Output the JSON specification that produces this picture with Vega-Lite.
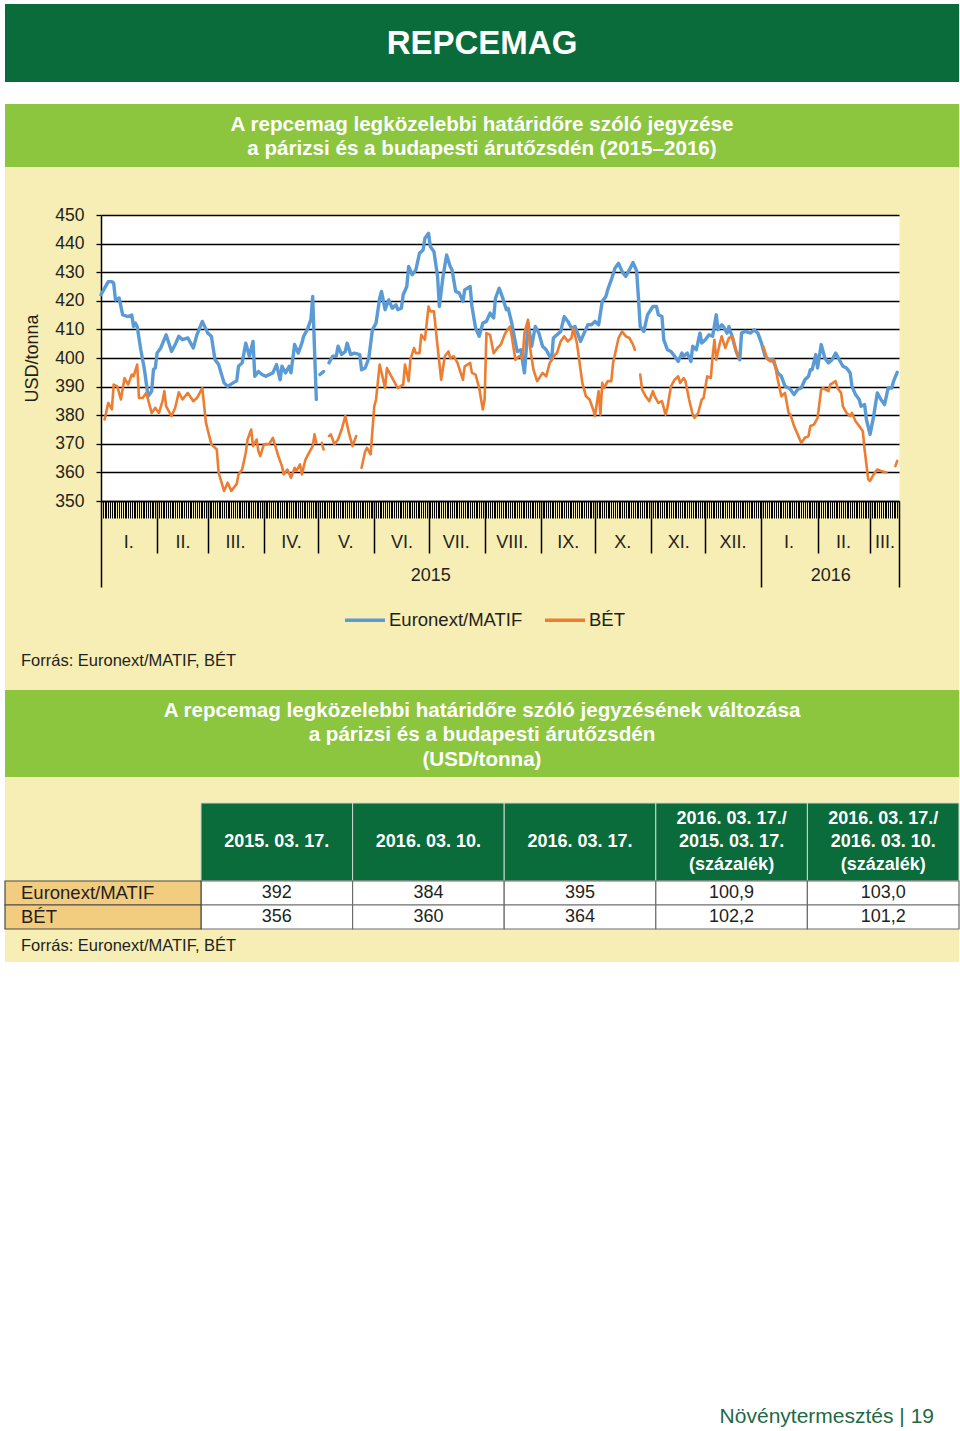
{
  "$schema": "https://vega.github.io/schema/vega-lite/v6.json",
  "background": "white",
  "padding": {"left": 4, "top": 4, "right": 2, "bottom": 0},
  "spacing": 0,
  "bounds": "flush",
  "config": {
    "view": {"stroke": null},
    "font": "Liberation Sans",
    "locale": {"number": {"decimal": ",", "thousands": " ", "grouping": [3], "currency": ["", ""]}}
  },
  "datasets": {
    "euronext": [
      {"date": "2015-01-01", "v": 422.1}, {"date": "2015-01-05", "v": 426.7}, {"date": "2015-01-07", "v": 426.7}, {"date": "2015-01-08", "v": 426.2},
      {"date": "2015-01-09", "v": 420.3}, {"date": "2015-01-11", "v": 421}, {"date": "2015-01-13", "v": 415.1}, {"date": "2015-01-16", "v": 414.5},
      {"date": "2015-01-18", "v": 415}, {"date": "2015-01-19", "v": 411}, {"date": "2015-01-20", "v": 412.2}, {"date": "2015-01-21", "v": 411},
      {"date": "2015-01-23", "v": 402.9}, {"date": "2015-01-25", "v": 396}, {"date": "2015-01-27", "v": 386.6}, {"date": "2015-01-29", "v": 388.4},
      {"date": "2015-01-30", "v": 396}, {"date": "2015-01-31", "v": 396.5}, {"date": "2015-02-01", "v": 401.7}, {"date": "2015-02-03", "v": 403.5},
      {"date": "2015-02-06", "v": 408.1}, {"date": "2015-02-09", "v": 402.3}, {"date": "2015-02-11", "v": 404.7}, {"date": "2015-02-13", "v": 407.6},
      {"date": "2015-02-15", "v": 406.4}, {"date": "2015-02-18", "v": 407}, {"date": "2015-02-21", "v": 403.5}, {"date": "2015-02-23", "v": 408.1},
      {"date": "2015-02-26", "v": 412.8}, {"date": "2015-03-01", "v": 408.7}, {"date": "2015-03-03", "v": 407.6}, {"date": "2015-03-05", "v": 399.4},
      {"date": "2015-03-07", "v": 397.7}, {"date": "2015-03-10", "v": 391.3}, {"date": "2015-03-12", "v": 390.1}, {"date": "2015-03-15", "v": 391.3},
      {"date": "2015-03-17", "v": 392}, {"date": "2015-03-18", "v": 397.1}, {"date": "2015-03-20", "v": 398.3}, {"date": "2015-03-22", "v": 405.2},
      {"date": "2015-03-24", "v": 400.6}, {"date": "2015-03-26", "v": 405.8}, {"date": "2015-03-27", "v": 393.6}, {"date": "2015-03-29", "v": 395.3},
      {"date": "2015-03-31", "v": 394.2}, {"date": "2015-04-02", "v": 393.6}, {"date": "2015-04-06", "v": 394.8}, {"date": "2015-04-08", "v": 397.7},
      {"date": "2015-04-10", "v": 392.4}, {"date": "2015-04-11", "v": 397.1}, {"date": "2015-04-13", "v": 394.8}, {"date": "2015-04-15", "v": 397.1},
      {"date": "2015-04-16", "v": 394.8}, {"date": "2015-04-18", "v": 404.7}, {"date": "2015-04-20", "v": 401.7}, {"date": "2015-04-22", "v": 405.2},
      {"date": "2015-04-23", "v": 407.6}, {"date": "2015-04-25", "v": 409.9}, {"date": "2015-04-27", "v": 413.4}, {"date": "2015-04-28", "v": 421.5},
      {"date": "2015-04-29", "v": 402.9}, {"date": "2015-04-30", "v": 385.5}, {"date": "2015-05-01", "v": null}, {"date": "2015-05-02", "v": 394.2},
      {"date": "2015-05-04", "v": 395.3}, {"date": "2015-05-06", "v": null}, {"date": "2015-05-07", "v": 398.3}, {"date": "2015-05-09", "v": 400.6},
      {"date": "2015-05-11", "v": 400.6}, {"date": "2015-05-12", "v": 404.1}, {"date": "2015-05-14", "v": 401.2}, {"date": "2015-05-16", "v": 402.3},
      {"date": "2015-05-17", "v": 405.2}, {"date": "2015-05-19", "v": 401.2}, {"date": "2015-05-21", "v": 401.7}, {"date": "2015-05-24", "v": 401.2},
      {"date": "2015-05-25", "v": 395.9}, {"date": "2015-05-27", "v": 396.5}, {"date": "2015-05-29", "v": 400}, {"date": "2015-05-31", "v": 409.9},
      {"date": "2015-06-02", "v": 412.2}, {"date": "2015-06-04", "v": 420.9}, {"date": "2015-06-05", "v": 423.3}, {"date": "2015-06-07", "v": 416.9},
      {"date": "2015-06-09", "v": 420.3}, {"date": "2015-06-11", "v": 417.4}, {"date": "2015-06-13", "v": 418.6}, {"date": "2015-06-14", "v": 416.9},
      {"date": "2015-06-16", "v": 417.4}, {"date": "2015-06-17", "v": 422.1}, {"date": "2015-06-19", "v": 425}, {"date": "2015-06-20", "v": 432},
      {"date": "2015-06-22", "v": 429.1}, {"date": "2015-06-24", "v": 430.8}, {"date": "2015-06-26", "v": 436.6}, {"date": "2015-06-28", "v": 437.8},
      {"date": "2015-06-29", "v": 441.9}, {"date": "2015-07-01", "v": 443.6}, {"date": "2015-07-02", "v": 439}, {"date": "2015-07-04", "v": 437.2},
      {"date": "2015-07-06", "v": 428.5}, {"date": "2015-07-07", "v": 418}, {"date": "2015-07-09", "v": 428.5}, {"date": "2015-07-11", "v": 436},
      {"date": "2015-07-13", "v": 432}, {"date": "2015-07-14", "v": 430.8}, {"date": "2015-07-16", "v": 423.3}, {"date": "2015-07-18", "v": 422.7},
      {"date": "2015-07-20", "v": 419.8}, {"date": "2015-07-21", "v": 423.8}, {"date": "2015-07-24", "v": 425}, {"date": "2015-07-25", "v": 418},
      {"date": "2015-07-27", "v": 410.5}, {"date": "2015-07-29", "v": 407.6}, {"date": "2015-07-31", "v": 412.2}, {"date": "2015-08-02", "v": 412.8},
      {"date": "2015-08-04", "v": 415.7}, {"date": "2015-08-06", "v": 414}, {"date": "2015-08-07", "v": 420.9}, {"date": "2015-08-09", "v": 424.4},
      {"date": "2015-08-11", "v": 421}, {"date": "2015-08-13", "v": 416.9}, {"date": "2015-08-14", "v": 417.4}, {"date": "2015-08-16", "v": 412.2},
      {"date": "2015-08-17", "v": 408.7}, {"date": "2015-08-19", "v": 402.3}, {"date": "2015-08-21", "v": 402.9}, {"date": "2015-08-23", "v": 394.8},
      {"date": "2015-08-24", "v": 402.9}, {"date": "2015-08-25", "v": 412.2}, {"date": "2015-08-27", "v": 404.1}, {"date": "2015-08-29", "v": 411},
      {"date": "2015-08-31", "v": 408.7}, {"date": "2015-09-02", "v": 404.1}, {"date": "2015-09-04", "v": 402.9}, {"date": "2015-09-07", "v": 399.4},
      {"date": "2015-09-08", "v": 407}, {"date": "2015-09-10", "v": 408.1}, {"date": "2015-09-12", "v": 409.3}, {"date": "2015-09-14", "v": 414.5},
      {"date": "2015-09-16", "v": 412.8}, {"date": "2015-09-18", "v": 410.5}, {"date": "2015-09-20", "v": 411}, {"date": "2015-09-21", "v": 409.3},
      {"date": "2015-09-23", "v": 405.8}, {"date": "2015-09-25", "v": 408.7}, {"date": "2015-09-27", "v": 411.6}, {"date": "2015-09-29", "v": 411.6},
      {"date": "2015-10-01", "v": 412.8}, {"date": "2015-10-03", "v": 411.6}, {"date": "2015-10-05", "v": 419.8}, {"date": "2015-10-07", "v": 421.5},
      {"date": "2015-10-08", "v": 423.8}, {"date": "2015-10-10", "v": 427.3}, {"date": "2015-10-12", "v": 431.4}, {"date": "2015-10-14", "v": 433.1},
      {"date": "2015-10-16", "v": 430.2}, {"date": "2015-10-18", "v": 428.5}, {"date": "2015-10-20", "v": 430.8}, {"date": "2015-10-22", "v": 433.4},
      {"date": "2015-10-24", "v": 430.5}, {"date": "2015-10-25", "v": 421}, {"date": "2015-10-26", "v": 411}, {"date": "2015-10-28", "v": 409.3},
      {"date": "2015-10-30", "v": 415.1}, {"date": "2015-11-02", "v": 418}, {"date": "2015-11-04", "v": 418}, {"date": "2015-11-05", "v": 415.1},
      {"date": "2015-11-07", "v": 414.5}, {"date": "2015-11-08", "v": 406.4}, {"date": "2015-11-10", "v": 402.9}, {"date": "2015-11-12", "v": 402.3},
      {"date": "2015-11-14", "v": 400.6}, {"date": "2015-11-16", "v": 398.8}, {"date": "2015-11-18", "v": 401.7}, {"date": "2015-11-19", "v": 400.6},
      {"date": "2015-11-21", "v": 401.7}, {"date": "2015-11-23", "v": 398.8}, {"date": "2015-11-24", "v": 404.1}, {"date": "2015-11-26", "v": 402.9},
      {"date": "2015-11-28", "v": 408.7}, {"date": "2015-11-29", "v": 405.2}, {"date": "2015-12-01", "v": 406.4}, {"date": "2015-12-03", "v": 408.1},
      {"date": "2015-12-05", "v": 407.6}, {"date": "2015-12-07", "v": 415.1}, {"date": "2015-12-08", "v": 409.9}, {"date": "2015-12-10", "v": 411.6},
      {"date": "2015-12-11", "v": 411}, {"date": "2015-12-13", "v": 408.7}, {"date": "2015-12-14", "v": 411}, {"date": "2015-12-16", "v": 407},
      {"date": "2015-12-18", "v": 402.3}, {"date": "2015-12-20", "v": 399.4}, {"date": "2015-12-21", "v": 408.7}, {"date": "2015-12-23", "v": 409.3},
      {"date": "2015-12-26", "v": 408.7}, {"date": "2015-12-28", "v": 409.9}, {"date": "2015-12-30", "v": 408.7}, {"date": "2016-01-01", "v": 405.2},
      {"date": "2016-01-03", "v": 400.6}, {"date": "2016-01-05", "v": 399.4}, {"date": "2016-01-07", "v": 399.4}, {"date": "2016-01-08", "v": 398.3},
      {"date": "2016-01-10", "v": 394.8}, {"date": "2016-01-12", "v": 393.6}, {"date": "2016-01-14", "v": 390.1}, {"date": "2016-01-16", "v": 389.5},
      {"date": "2016-01-17", "v": 389}, {"date": "2016-01-19", "v": 387.2}, {"date": "2016-01-21", "v": 389}, {"date": "2016-01-23", "v": 389.5},
      {"date": "2016-01-25", "v": 392.4}, {"date": "2016-01-27", "v": 393.6}, {"date": "2016-01-28", "v": 395.9}, {"date": "2016-01-29", "v": 395.9},
      {"date": "2016-01-31", "v": 401.2}, {"date": "2016-02-01", "v": 396.5}, {"date": "2016-02-03", "v": 404.7}, {"date": "2016-02-05", "v": 400},
      {"date": "2016-02-07", "v": 398.3}, {"date": "2016-02-09", "v": 399.4}, {"date": "2016-02-11", "v": 401.7}, {"date": "2016-02-13", "v": 399.4},
      {"date": "2016-02-15", "v": 397.1}, {"date": "2016-02-17", "v": 396.5}, {"date": "2016-02-19", "v": 394.8}, {"date": "2016-02-20", "v": 390.1},
      {"date": "2016-02-22", "v": 387.2}, {"date": "2016-02-24", "v": 385.5}, {"date": "2016-02-25", "v": 383.1}, {"date": "2016-02-27", "v": 383.7},
      {"date": "2016-02-28", "v": 378.5}, {"date": "2016-03-01", "v": 373.3}, {"date": "2016-03-03", "v": 379.7}, {"date": "2016-03-05", "v": 387.8},
      {"date": "2016-03-07", "v": 385.5}, {"date": "2016-03-09", "v": 383.7}, {"date": "2016-03-11", "v": 389.5}, {"date": "2016-03-13", "v": 389.5},
      {"date": "2016-03-14", "v": 391.9}, {"date": "2016-03-16", "v": 395}
    ],
    "bet": [
      {"date": "2015-01-03", "v": 378.5}, {"date": "2015-01-05", "v": 384.3}, {"date": "2015-01-07", "v": 382}, {"date": "2015-01-08", "v": 390.7},
      {"date": "2015-01-10", "v": 390.1}, {"date": "2015-01-12", "v": 385.5}, {"date": "2015-01-14", "v": 393}, {"date": "2015-01-16", "v": 390.7},
      {"date": "2015-01-18", "v": 394.2}, {"date": "2015-01-19", "v": 393.6}, {"date": "2015-01-21", "v": 397.7}, {"date": "2015-01-22", "v": 386},
      {"date": "2015-01-24", "v": 386}, {"date": "2015-01-26", "v": 387.8}, {"date": "2015-01-27", "v": 385.5}, {"date": "2015-01-29", "v": 380.8},
      {"date": "2015-01-31", "v": 382.6}, {"date": "2015-02-02", "v": 380.8}, {"date": "2015-02-04", "v": 384.9}, {"date": "2015-02-05", "v": 388.4},
      {"date": "2015-02-06", "v": 383.1}, {"date": "2015-02-09", "v": 379.7}, {"date": "2015-02-11", "v": 382.6}, {"date": "2015-02-13", "v": 388},
      {"date": "2015-02-15", "v": 385.5}, {"date": "2015-02-18", "v": 387.8}, {"date": "2015-02-21", "v": 384.9}, {"date": "2015-02-23", "v": 386},
      {"date": "2015-02-26", "v": 389.5}, {"date": "2015-02-28", "v": 377.3}, {"date": "2015-03-03", "v": 369.8}, {"date": "2015-03-06", "v": 368},
      {"date": "2015-03-07", "v": 359.9}, {"date": "2015-03-10", "v": 353.5}, {"date": "2015-03-12", "v": 356.4}, {"date": "2015-03-14", "v": 353.5},
      {"date": "2015-03-17", "v": 356}, {"date": "2015-03-18", "v": 359.3}, {"date": "2015-03-20", "v": 361}, {"date": "2015-03-22", "v": 366.9},
      {"date": "2015-03-23", "v": 371.5}, {"date": "2015-03-25", "v": 375}, {"date": "2015-03-26", "v": 369.2}, {"date": "2015-03-28", "v": 371.5},
      {"date": "2015-03-29", "v": 367.4}, {"date": "2015-03-30", "v": 365.7}, {"date": "2015-04-01", "v": 369.8}, {"date": "2015-04-04", "v": 370},
      {"date": "2015-04-06", "v": 372.1}, {"date": "2015-04-09", "v": 365.7}, {"date": "2015-04-11", "v": 362.2}, {"date": "2015-04-12", "v": 359.3},
      {"date": "2015-04-14", "v": 361}, {"date": "2015-04-16", "v": 358.1}, {"date": "2015-04-18", "v": 361.6}, {"date": "2015-04-19", "v": 360.5},
      {"date": "2015-04-21", "v": 362.8}, {"date": "2015-04-22", "v": 359.3}, {"date": "2015-04-24", "v": 364.5}, {"date": "2015-04-26", "v": 366.9},
      {"date": "2015-04-28", "v": 369.2}, {"date": "2015-04-29", "v": 373.3}, {"date": "2015-04-30", "v": 370.3}, {"date": "2015-05-01", "v": null},
      {"date": "2015-05-03", "v": 370.3}, {"date": "2015-05-04", "v": 368}, {"date": "2015-05-05", "v": null}, {"date": "2015-05-07", "v": 372.7},
      {"date": "2015-05-08", "v": 373.3}, {"date": "2015-05-10", "v": 369.8}, {"date": "2015-05-12", "v": 371.5}, {"date": "2015-05-14", "v": 375},
      {"date": "2015-05-16", "v": 379.7}, {"date": "2015-05-18", "v": 373.8}, {"date": "2015-05-20", "v": 369.2}, {"date": "2015-05-22", "v": 372.7},
      {"date": "2015-05-24", "v": null}, {"date": "2015-05-25", "v": 361.6}, {"date": "2015-05-27", "v": 367.4}, {"date": "2015-05-28", "v": 368.6},
      {"date": "2015-05-30", "v": 366.3}, {"date": "2015-06-01", "v": 383.1}, {"date": "2015-06-02", "v": 385.5}, {"date": "2015-06-04", "v": 397.7},
      {"date": "2015-06-07", "v": 389.5}, {"date": "2015-06-08", "v": 396.5}, {"date": "2015-06-11", "v": 393}, {"date": "2015-06-14", "v": 389.5},
      {"date": "2015-06-17", "v": 390.7}, {"date": "2015-06-18", "v": 397.7}, {"date": "2015-06-20", "v": 391.9}, {"date": "2015-06-21", "v": 399.4},
      {"date": "2015-06-23", "v": 403.5}, {"date": "2015-06-24", "v": 401.7}, {"date": "2015-06-26", "v": 401.7}, {"date": "2015-06-27", "v": 408.1},
      {"date": "2015-06-29", "v": 406.4}, {"date": "2015-07-01", "v": 418}, {"date": "2015-07-02", "v": 416.3}, {"date": "2015-07-04", "v": 416.3},
      {"date": "2015-07-06", "v": 404.1}, {"date": "2015-07-08", "v": 392.4}, {"date": "2015-07-10", "v": 400.6}, {"date": "2015-07-12", "v": 402.3},
      {"date": "2015-07-13", "v": 400}, {"date": "2015-07-15", "v": 400.6}, {"date": "2015-07-17", "v": 398.3}, {"date": "2015-07-20", "v": 392.4},
      {"date": "2015-07-21", "v": 397.1}, {"date": "2015-07-24", "v": 398.3}, {"date": "2015-07-25", "v": 394.8}, {"date": "2015-07-27", "v": 394.2},
      {"date": "2015-07-29", "v": 389.5}, {"date": "2015-07-31", "v": 382}, {"date": "2015-08-01", "v": 385.5}, {"date": "2015-08-02", "v": 408.7},
      {"date": "2015-08-04", "v": 408.1}, {"date": "2015-08-06", "v": 401.7}, {"date": "2015-08-08", "v": 403.5}, {"date": "2015-08-10", "v": 404.7},
      {"date": "2015-08-12", "v": 408.1}, {"date": "2015-08-13", "v": 409.3}, {"date": "2015-08-15", "v": 411}, {"date": "2015-08-16", "v": 407.6},
      {"date": "2015-08-18", "v": 399.4}, {"date": "2015-08-20", "v": 400.6}, {"date": "2015-08-22", "v": 400}, {"date": "2015-08-23", "v": 408.7},
      {"date": "2015-08-25", "v": 413.4}, {"date": "2015-08-26", "v": 404.1}, {"date": "2015-08-28", "v": 395.9}, {"date": "2015-08-30", "v": 391.9},
      {"date": "2015-09-02", "v": 394.8}, {"date": "2015-09-04", "v": 393.6}, {"date": "2015-09-06", "v": 398.3}, {"date": "2015-09-09", "v": 401.2},
      {"date": "2015-09-10", "v": 401.7}, {"date": "2015-09-12", "v": 405.8}, {"date": "2015-09-14", "v": 407.6}, {"date": "2015-09-16", "v": 405.8},
      {"date": "2015-09-18", "v": 407}, {"date": "2015-09-19", "v": 410.5}, {"date": "2015-09-21", "v": 405.2}, {"date": "2015-09-22", "v": 400.6},
      {"date": "2015-09-24", "v": 391.3}, {"date": "2015-09-26", "v": 386.6}, {"date": "2015-09-28", "v": 385.5}, {"date": "2015-09-30", "v": 382},
      {"date": "2015-10-01", "v": 379.7}, {"date": "2015-10-03", "v": 388.4}, {"date": "2015-10-04", "v": 380.2}, {"date": "2015-10-05", "v": 391.3},
      {"date": "2015-10-06", "v": 389.5}, {"date": "2015-10-08", "v": 391.9}, {"date": "2015-10-10", "v": 391.9}, {"date": "2015-10-11", "v": 398.3},
      {"date": "2015-10-13", "v": 404.1}, {"date": "2015-10-14", "v": 407}, {"date": "2015-10-16", "v": 409.3}, {"date": "2015-10-18", "v": 407.6},
      {"date": "2015-10-20", "v": 407}, {"date": "2015-10-22", "v": 404.7}, {"date": "2015-10-23", "v": 402.9}, {"date": "2015-10-24", "v": null},
      {"date": "2015-10-26", "v": 394.2}, {"date": "2015-10-27", "v": 389}, {"date": "2015-10-29", "v": 386.6}, {"date": "2015-10-31", "v": 384.9},
      {"date": "2015-11-02", "v": 388.4}, {"date": "2015-11-03", "v": 386.6}, {"date": "2015-11-05", "v": 384.3}, {"date": "2015-11-07", "v": 384.9},
      {"date": "2015-11-09", "v": 380.2}, {"date": "2015-11-10", "v": 382.6}, {"date": "2015-11-12", "v": 390.1}, {"date": "2015-11-14", "v": 392.4},
      {"date": "2015-11-16", "v": 393.6}, {"date": "2015-11-17", "v": 391.3}, {"date": "2015-11-19", "v": 393}, {"date": "2015-11-20", "v": 391.9},
      {"date": "2015-11-22", "v": 385.5}, {"date": "2015-11-24", "v": 380.2}, {"date": "2015-11-25", "v": 379.1}, {"date": "2015-11-27", "v": 380.8},
      {"date": "2015-11-29", "v": 385.5}, {"date": "2015-11-30", "v": 386}, {"date": "2015-12-02", "v": 393.6}, {"date": "2015-12-04", "v": 393},
      {"date": "2015-12-05", "v": 400.6}, {"date": "2015-12-06", "v": 406.4}, {"date": "2015-12-07", "v": 399.4}, {"date": "2015-12-09", "v": 405.2},
      {"date": "2015-12-10", "v": 407.6}, {"date": "2015-12-12", "v": 403.5}, {"date": "2015-12-14", "v": 407}, {"date": "2015-12-16", "v": 407.6},
      {"date": "2015-12-18", "v": 402.3}, {"date": "2015-12-19", "v": 400.6}, {"date": "2015-12-21", "v": null}, {"date": "2016-01-02", "v": 404.1},
      {"date": "2016-01-04", "v": 400}, {"date": "2016-01-06", "v": 398.8}, {"date": "2016-01-08", "v": 399.4}, {"date": "2016-01-10", "v": 392.4},
      {"date": "2016-01-12", "v": 386.6}, {"date": "2016-01-14", "v": 387.8}, {"date": "2016-01-16", "v": 380.8}, {"date": "2016-01-17", "v": 380.2},
      {"date": "2016-01-19", "v": 376.2}, {"date": "2016-01-21", "v": 373.3}, {"date": "2016-01-23", "v": 370.3}, {"date": "2016-01-25", "v": 372.1},
      {"date": "2016-01-27", "v": 372.7}, {"date": "2016-01-28", "v": 376.2}, {"date": "2016-01-30", "v": 376.7}, {"date": "2016-02-01", "v": 379.1},
      {"date": "2016-02-03", "v": 389}, {"date": "2016-02-04", "v": 389.5}, {"date": "2016-02-07", "v": 388.4}, {"date": "2016-02-08", "v": 390.7},
      {"date": "2016-02-11", "v": 391.9}, {"date": "2016-02-12", "v": 389.5}, {"date": "2016-02-14", "v": 387.8}, {"date": "2016-02-15", "v": 383.1},
      {"date": "2016-02-17", "v": 380.8}, {"date": "2016-02-19", "v": 379.7}, {"date": "2016-02-20", "v": 380.8}, {"date": "2016-02-22", "v": 377.9},
      {"date": "2016-02-24", "v": 376.2}, {"date": "2016-02-26", "v": 374.4}, {"date": "2016-02-27", "v": 368}, {"date": "2016-02-29", "v": 357.6},
      {"date": "2016-03-01", "v": 357}, {"date": "2016-03-03", "v": 359.3}, {"date": "2016-03-05", "v": 361}, {"date": "2016-03-07", "v": 360.5},
      {"date": "2016-03-10", "v": 360}, {"date": "2016-03-12", "v": null}, {"date": "2016-03-15", "v": 362.2}, {"date": "2016-03-16", "v": 364}
    ],
    "header": [
      {"col": "2015. 03. 17.", "label": ["", "2015. 03. 17.", ""]},
      {"col": "2016. 03. 10.", "label": ["", "2016. 03. 10.", ""]},
      {"col": "2016. 03. 17.", "label": ["", "2016. 03. 17.", ""]},
      {"col": "2016. 03. 17./2015. 03. 17.", "label": ["2016. 03. 17./", "2015. 03. 17.", "(százalék)"]},
      {"col": "2016. 03. 17./2016. 03. 10.", "label": ["2016. 03. 17./", "2016. 03. 10.", "(százalék)"]}
    ],
    "rows": [{"row": "Euronext/MATIF"}, {"row": "BÉT"}],
    "table": [
      {"row": "Euronext/MATIF", "col": "2015. 03. 17.", "v": 392},
      {"row": "Euronext/MATIF", "col": "2016. 03. 10.", "v": 384},
      {"row": "Euronext/MATIF", "col": "2016. 03. 17.", "v": 395},
      {"row": "Euronext/MATIF", "col": "2016. 03. 17./2015. 03. 17.", "v": 100.9},
      {"row": "Euronext/MATIF", "col": "2016. 03. 17./2016. 03. 10.", "v": 103.0},
      {"row": "BÉT", "col": "2015. 03. 17.", "v": 356},
      {"row": "BÉT", "col": "2016. 03. 10.", "v": 360},
      {"row": "BÉT", "col": "2016. 03. 17.", "v": 364},
      {"row": "BÉT", "col": "2016. 03. 17./2015. 03. 17.", "v": 102.2},
      {"row": "BÉT", "col": "2016. 03. 17./2016. 03. 10.", "v": 101.2}
    ]
  },
  "vconcat": [
    {
      "width": 954, "height": 78,
      "view": {"fill": "#0a6b3b"},
      "data": {"values": [{"t": "REPCEMAG"}]},
      "mark": {"type": "text", "fontSize": 33, "fontWeight": "bold", "color": "white", "baseline": "middle", "dy": 1},
      "encoding": {"text": {"field": "t", "type": "nominal"}}
    },
    {
      "width": 954, "height": 22,
      "data": {"values": [{}]},
      "mark": {"type": "text"},
      "encoding": {"text": {"value": ""}}
    },
    {
      "width": 954, "height": 63,
      "view": {"fill": "#8cc63f"},
      "data": {"values": [{"t": ["A repcemag legközelebbi határidőre szóló jegyzése", "a párizsi és a budapesti árutőzsdén (2015–2016)"]}]},
      "mark": {"type": "text", "fontSize": 20.6, "fontWeight": "bold", "color": "white", "baseline": "middle", "lineHeight": 24, "dy": -11},
      "encoding": {"text": {"field": "t", "type": "nominal"}}
    },
    {
      "width": 954, "height": 523,
      "view": {"fill": "#f6eeb4"},
      "title": {"text": "Forrás: Euronext/MATIF, BÉT", "orient": "bottom", "anchor": "start", "frame": "group", "offset": -29, "dx": 16, "baseline": "middle", "fontSize": 16.5, "fontWeight": "normal", "color": "#231f20", "font": "Liberation Sans"},
      "resolve": {"axis": {"x": "independent", "y": "independent"}},
      "layer": [
        {
          "data": {"name": "euronext"},
          "mark": {"type": "line", "strokeWidth": 3.4, "strokeJoin": "round", "strokeCap": "round"},
          "encoding": {
            "x": {"field": "date", "type": "temporal",
              "scale": {"domain": [{"year": 2015, "month": 1, "date": 1}, {"year": 2016, "month": 3, "date": 17}], "range": [96, 894], "nice": false},
              "axis": {"orient": "bottom", "offset": -189, "tickCount": {"interval": "day", "step": 1}, "tickSize": 17, "tickColor": "#000", "tickWidth": 1, "labels": false, "grid": false, "domain": true, "domainColor": "#000", "domainWidth": 1.5, "title": null}},
            "y": {"field": "v", "type": "quantitative",
              "scale": {"domain": [350, 450], "range": [334, 48], "nice": false, "zero": false},
              "axis": {"orient": "left", "offset": -96, "values": [400], "grid": true, "gridColor": "white", "gridWidth": 286, "gridOpacity": 1, "ticks": false, "labels": false, "domain": false, "title": null}},
            "color": {"datum": "Euronext/MATIF", "type": "nominal",
              "scale": {"domain": ["Euronext/MATIF", "BÉT"], "range": ["#5b9bd5", "#ed7d31"]},
              "legend": {"orient": "none", "legendX": 338, "legendY": 594, "direction": "horizontal", "title": null, "symbolType": "stroke", "symbolSize": 1600, "symbolStrokeWidth": 3.5, "labelFontSize": 18.5, "labelColor": "#231f20", "labelFont": "Liberation Sans", "labelOffset": 2, "columnPadding": 15, "padding": 0}}
          }
        },
        {
          "data": {"name": "bet"},
          "mark": {"type": "line", "strokeWidth": 2.6, "strokeJoin": "round", "strokeCap": "round"},
          "encoding": {
            "x": {"field": "date", "type": "temporal",
              "scale": {"domain": [{"year": 2015, "month": 1, "date": 1}, {"year": 2016, "month": 3, "date": 17}], "range": [96, 894], "nice": false},
              "axis": null},
            "y": {"field": "v", "type": "quantitative",
              "scale": {"domain": [350, 450], "range": [334, 48], "nice": false, "zero": false},
              "axis": {"orient": "left", "offset": -96, "values": [350, 360, 370, 380, 390, 400, 410, 420, 430, 440, 450], "grid": true, "gridColor": "#000", "gridWidth": 1.3, "gridOpacity": 1, "tickSize": 5, "tickColor": "#000", "tickWidth": 1.3, "labelFontSize": 17.5, "labelColor": "#231f20", "labelFont": "Liberation Sans", "labelPadding": 12, "domain": true, "domainColor": "#000", "domainWidth": 1.5, "title": "USD/tonna", "titleFontSize": 18, "titleFontWeight": "normal", "titleColor": "#231f20", "titleFont": "Liberation Sans", "titleX": -69, "titleBaseline": "middle", "titleAngle": -90}},
            "color": {"datum": "BÉT", "type": "nominal",
              "scale": {"domain": ["Euronext/MATIF", "BÉT"], "range": ["#5b9bd5", "#ed7d31"]},
              "legend": {"orient": "none", "legendX": 338, "legendY": 594, "direction": "horizontal", "title": null, "symbolType": "stroke", "symbolSize": 1600, "symbolStrokeWidth": 3.5, "labelFontSize": 18.5, "labelColor": "#231f20", "labelFont": "Liberation Sans", "labelOffset": 2, "columnPadding": 15, "padding": 0}}
          }
        },
        {
          "data": {"values": [{}]},
          "mark": {"type": "text"},
          "encoding": {
            "x": {"datum": {"year": 2015, "month": 1, "date": 1}, "type": "temporal",
              "scale": {"domain": [{"year": 2015, "month": 1, "date": 1}, {"year": 2016, "month": 3, "date": 17}], "range": [96, 894], "nice": false},
              "axis": {"orient": "bottom", "offset": -189, "values": [
                {"year": 2015, "month": 2, "date": 1}, {"year": 2015, "month": 3, "date": 1}, {"year": 2015, "month": 4, "date": 1}, {"year": 2015, "month": 5, "date": 1},
                {"year": 2015, "month": 6, "date": 1}, {"year": 2015, "month": 7, "date": 1}, {"year": 2015, "month": 8, "date": 1}, {"year": 2015, "month": 9, "date": 1},
                {"year": 2015, "month": 10, "date": 1}, {"year": 2015, "month": 11, "date": 1}, {"year": 2015, "month": 12, "date": 1},
                {"year": 2016, "month": 2, "date": 1}, {"year": 2016, "month": 3, "date": 1}],
                "tickSize": 52, "tickWidth": 1.5, "tickColor": "#000", "labels": false, "domain": false, "grid": false, "title": null}},
            "y": {"datum": 400, "type": "quantitative", "scale": {"domain": [350, 450], "range": [334, 48], "nice": false, "zero": false}, "axis": null},
            "text": {"value": ""}
          }
        },
        {
          "data": {"values": [{}]},
          "mark": {"type": "text"},
          "encoding": {
            "x": {"datum": {"year": 2015, "month": 1, "date": 1}, "type": "temporal",
              "scale": {"domain": [{"year": 2015, "month": 1, "date": 1}, {"year": 2016, "month": 3, "date": 17}], "range": [96, 894], "nice": false},
              "axis": {"orient": "bottom", "offset": -189, "values": [
                {"year": 2015, "month": 1, "date": 1}, {"year": 2016, "month": 1, "date": 1}, {"year": 2016, "month": 3, "date": 17}],
                "tickSize": 86, "tickWidth": 1.5, "tickColor": "#000", "labels": false, "domain": false, "grid": false, "title": null}},
            "y": {"datum": 400, "type": "quantitative", "scale": {"domain": [350, 450], "range": [334, 48], "nice": false, "zero": false}, "axis": null},
            "text": {"value": ""}
          }
        },
        {
          "data": {"values": [{}]},
          "mark": {"type": "text"},
          "encoding": {
            "x": {"datum": {"year": 2015, "month": 1, "date": 1}, "type": "temporal",
              "scale": {"domain": [{"year": 2015, "month": 1, "date": 1}, {"year": 2016, "month": 3, "date": 17}], "range": [96, 894], "nice": false},
              "axis": {"orient": "bottom", "offset": -189, "values": [
                {"year": 2015, "month": 1, "date": 16}, {"year": 2015, "month": 2, "date": 15}, {"year": 2015, "month": 3, "date": 16}, {"year": 2015, "month": 4, "date": 16},
                {"year": 2015, "month": 5, "date": 16}, {"year": 2015, "month": 6, "date": 16}, {"year": 2015, "month": 7, "date": 16}, {"year": 2015, "month": 8, "date": 16},
                {"year": 2015, "month": 9, "date": 16}, {"year": 2015, "month": 10, "date": 16}, {"year": 2015, "month": 11, "date": 16}, {"year": 2015, "month": 12, "date": 16},
                {"year": 2016, "month": 1, "date": 16}, {"year": 2016, "month": 2, "date": 15}, {"year": 2016, "month": 3, "date": 9}],
                "ticks": false, "tickSize": 0, "domain": false, "grid": false, "title": null,
                "labelExpr": "['I.','II.','III.','IV.','V.','VI.','VII.','VIII.','IX.','X.','XI.','XII.'][month(datum.value)]",
                "labelPadding": 41, "labelBaseline": "middle", "labelFontSize": 18, "labelColor": "#231f20", "labelFont": "Liberation Sans", "labelOverlap": false, "labelFlush": false, "labelBound": false}},
            "y": {"datum": 400, "type": "quantitative", "scale": {"domain": [350, 450], "range": [334, 48], "nice": false, "zero": false}, "axis": null},
            "text": {"value": ""}
          }
        },
        {
          "data": {"values": [{}]},
          "mark": {"type": "text"},
          "encoding": {
            "x": {"datum": {"year": 2015, "month": 1, "date": 1}, "type": "temporal",
              "scale": {"domain": [{"year": 2015, "month": 1, "date": 1}, {"year": 2016, "month": 3, "date": 17}], "range": [96, 894], "nice": false},
              "axis": {"orient": "bottom", "offset": -189, "values": [{"year": 2015, "month": 7, "date": 2}, {"year": 2016, "month": 2, "date": 8}],
                "ticks": false, "tickSize": 0, "domain": false, "grid": false, "title": null,
                "labelExpr": "timeFormat(datum.value, '%Y')",
                "labelPadding": 74, "labelBaseline": "middle", "labelFontSize": 18, "labelColor": "#231f20", "labelFont": "Liberation Sans", "labelOverlap": false, "labelFlush": false, "labelBound": false}},
            "y": {"datum": 400, "type": "quantitative", "scale": {"domain": [350, 450], "range": [334, 48], "nice": false, "zero": false}, "axis": null},
            "text": {"value": ""}
          }
        }
      ]
    },
    {
      "width": 954, "height": 87,
      "view": {"fill": "#8cc63f"},
      "data": {"values": [{"t": ["A repcemag legközelebbi határidőre szóló jegyzésének változása", "a párizsi és a budapesti árutőzsdén", "(USD/tonna)"]}]},
      "mark": {"type": "text", "fontSize": 20.6, "fontWeight": "bold", "color": "white", "baseline": "middle", "lineHeight": 24.5, "dy": -23},
      "encoding": {"text": {"field": "t", "type": "nominal"}}
    },
    {
      "width": 954, "height": 185,
      "view": {"fill": "#f6eeb4"},
      "title": {"text": "Forrás: Euronext/MATIF, BÉT", "orient": "bottom", "anchor": "start", "frame": "group", "offset": -16, "dx": 16, "baseline": "middle", "fontSize": 16.5, "fontWeight": "normal", "color": "#231f20", "font": "Liberation Sans"},
      "resolve": {"scale": {"x": "independent", "y": "independent"}},
      "layer": [
        {
          "data": {"name": "header"},
          "mark": {"type": "rect", "fill": "#0a6b3b", "stroke": "#cfd8cf", "strokeWidth": 1},
          "encoding": {
            "x": {"field": "col", "type": "nominal", "scale": {"domain": ["2015. 03. 17.", "2016. 03. 10.", "2016. 03. 17.", "2016. 03. 17./2015. 03. 17.", "2016. 03. 17./2016. 03. 10."], "range": [196, 954], "paddingInner": 0, "paddingOuter": 0}, "axis": null},
            "y": {"datum": "fejléc", "type": "nominal", "scale": {"domain": ["fejléc"], "range": [26, 104], "paddingInner": 0, "paddingOuter": 0}, "axis": null}
          }
        },
        {
          "data": {"name": "header"},
          "mark": {"type": "text", "color": "white", "fontWeight": "bold", "fontSize": 18, "baseline": "middle", "lineHeight": 23, "dy": -23},
          "encoding": {
            "x": {"field": "col", "type": "nominal", "scale": {"domain": ["2015. 03. 17.", "2016. 03. 10.", "2016. 03. 17.", "2016. 03. 17./2015. 03. 17.", "2016. 03. 17./2016. 03. 10."], "range": [196, 954], "paddingInner": 0, "paddingOuter": 0}, "axis": null},
            "y": {"datum": "fejléc", "type": "nominal", "scale": {"domain": ["fejléc"], "range": [26, 104], "paddingInner": 0, "paddingOuter": 0}, "axis": null},
            "text": {"field": "label", "type": "nominal"}
          }
        },
        {
          "data": {"name": "table"},
          "mark": {"type": "rect", "fill": "white", "stroke": "#6e6e6e", "strokeWidth": 1.2},
          "encoding": {
            "x": {"field": "col", "type": "nominal", "scale": {"domain": ["2015. 03. 17.", "2016. 03. 10.", "2016. 03. 17.", "2016. 03. 17./2015. 03. 17.", "2016. 03. 17./2016. 03. 10."], "range": [196, 954], "paddingInner": 0, "paddingOuter": 0}, "axis": null},
            "y": {"field": "row", "type": "nominal", "scale": {"domain": ["Euronext/MATIF", "BÉT"], "range": [104, 152], "paddingInner": 0, "paddingOuter": 0}, "axis": null}
          }
        },
        {
          "data": {"name": "table"},
          "transform": [{"filter": {"field": "col", "oneOf": ["2015. 03. 17.", "2016. 03. 10.", "2016. 03. 17."]}}],
          "mark": {"type": "text", "baseline": "middle", "fontSize": 18, "color": "#231f20"},
          "encoding": {
            "x": {"field": "col", "type": "nominal", "scale": {"domain": ["2015. 03. 17.", "2016. 03. 10.", "2016. 03. 17.", "2016. 03. 17./2015. 03. 17.", "2016. 03. 17./2016. 03. 10."], "range": [196, 954], "paddingInner": 0, "paddingOuter": 0}, "axis": null},
            "y": {"field": "row", "type": "nominal", "scale": {"domain": ["Euronext/MATIF", "BÉT"], "range": [104, 152], "paddingInner": 0, "paddingOuter": 0}, "axis": null},
            "text": {"field": "v", "type": "quantitative", "format": "d"}
          }
        },
        {
          "data": {"name": "table"},
          "transform": [{"filter": {"field": "col", "oneOf": ["2016. 03. 17./2015. 03. 17.", "2016. 03. 17./2016. 03. 10."]}}],
          "mark": {"type": "text", "baseline": "middle", "fontSize": 18, "color": "#231f20"},
          "encoding": {
            "x": {"field": "col", "type": "nominal", "scale": {"domain": ["2015. 03. 17.", "2016. 03. 10.", "2016. 03. 17.", "2016. 03. 17./2015. 03. 17.", "2016. 03. 17./2016. 03. 10."], "range": [196, 954], "paddingInner": 0, "paddingOuter": 0}, "axis": null},
            "y": {"field": "row", "type": "nominal", "scale": {"domain": ["Euronext/MATIF", "BÉT"], "range": [104, 152], "paddingInner": 0, "paddingOuter": 0}, "axis": null},
            "text": {"field": "v", "type": "quantitative", "format": ".1f"}
          }
        },
        {
          "data": {"name": "rows"},
          "mark": {"type": "rect", "fill": "#f2cd80", "stroke": "#4a4a4a", "strokeWidth": 1.2},
          "encoding": {
            "x": {"datum": "megnevezés", "type": "nominal", "scale": {"domain": ["megnevezés"], "range": [0, 196], "paddingInner": 0, "paddingOuter": 0}, "axis": null},
            "y": {"field": "row", "type": "nominal", "scale": {"domain": ["Euronext/MATIF", "BÉT"], "range": [104, 152], "paddingInner": 0, "paddingOuter": 0}, "axis": null}
          }
        },
        {
          "data": {"name": "rows"},
          "mark": {"type": "text", "align": "left", "baseline": "middle", "fontSize": 18.5, "color": "#231f20"},
          "encoding": {
            "x": {"datum": "megnevezés", "type": "nominal", "scale": {"domain": ["megnevezés"], "range": [0, 32], "paddingInner": 0, "paddingOuter": 0}, "axis": null},
            "y": {"field": "row", "type": "nominal", "scale": {"domain": ["Euronext/MATIF", "BÉT"], "range": [104, 152], "paddingInner": 0, "paddingOuter": 0}, "axis": null},
            "text": {"field": "row", "type": "nominal"}
          }
        }
      ]
    },
    {
      "width": 954, "height": 469,
      "title": {"text": "Növénytermesztés | 19", "orient": "bottom", "anchor": "end", "frame": "group", "offset": -14, "dx": -25, "baseline": "middle", "fontSize": 21, "fontWeight": "normal", "color": "#1d6a45", "font": "Liberation Sans"},
      "data": {"values": [{}]},
      "mark": {"type": "text"},
      "encoding": {"text": {"value": ""}}
    }
  ]
}
